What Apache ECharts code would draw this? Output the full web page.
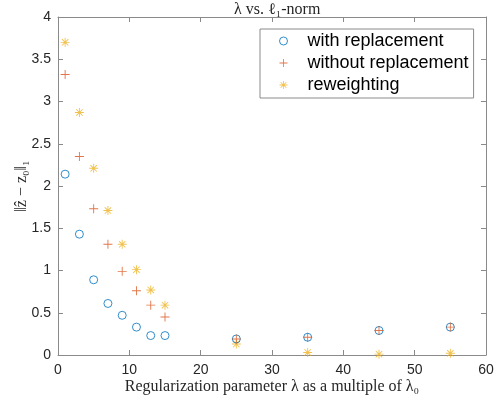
<!DOCTYPE html>
<html><head><meta charset="utf-8">
<script src="https://cdn.jsdelivr.net/npm/echarts@6/dist/echarts.min.js"></script>
<style>html,body{margin:0;padding:0;background:#fff}#c{width:500px;height:397px}</style>
</head><body><div id="c"></div>
<script>
const lambdas = [1, 3, 5, 7, 9, 11, 13, 15, 25, 35, 45, 55];
const withReplacement = [2.14, 1.43, 0.89, 0.61, 0.47, 0.33, 0.23, 0.23, 0.19, 0.21, 0.29, 0.33];
const withoutReplacement = [3.32, 2.35, 1.73, 1.31, 0.99, 0.76, 0.59, 0.45, 0.19, 0.21, 0.29, 0.33];
const reweighting = [3.70, 2.87, 2.21, 1.71, 1.31, 1.01, 0.77, 0.59, 0.13, 0.03, 0.01, 0.02];
const seriesNames = ['with replacement', 'without replacement', 'reweighting'];
const xTicks = [0, 10, 20, 30, 40, 50, 60];
const yTicks = [0, 0.5, 1, 1.5, 2, 2.5, 3, 3.5, 4];

const PLUS = 'path://M0,9H20V11H0ZM9,0H11V20H9Z';
const STAR = 'path://M0,9H20V11H0ZM9,0H11V20H9ZM2.2,3.6L3.6,2.2L17.8,16.4L16.4,17.8ZM16.4,2.2L17.8,3.6L3.6,17.8L2.2,16.4Z';
const axisCol = '#8a8a8a';
const txtCol = '#262626';
const serif = '"Liberation Serif","DejaVu Serif",serif';
const sans = '"Liberation Sans",Arial,sans-serif';

function pairs(ys){ return lambdas.map((x,i)=>[x, ys[i]]); }

const baseX = {type:'value', min:xTicks[0], max:xTicks[xTicks.length-1], interval:10,
  axisLine:{show:true, onZero:false, lineStyle:{color:axisCol, width:1}},
  axisTick:{show:true, inside:true, length:5, lineStyle:{color:axisCol}},
  splitLine:{show:false}};
const baseY = {type:'value', min:yTicks[0], max:yTicks[yTicks.length-1], interval:0.5,
  axisLine:{show:true, onZero:false, lineStyle:{color:axisCol, width:1}},
  axisTick:{show:true, inside:true, length:5, lineStyle:{color:axisCol}},
  splitLine:{show:false}};

const option = {
  animation:false,
  backgroundColor:'#fff',
  title:{text:'λ vs. ℓ₁-norm', left:229, top:-3, textStyle:{fontFamily:serif, fontSize:16, fontWeight:'normal', color:txtCol}},
  grid:{left:58, right:14, top:17, bottom:42, containLabel:false, outerBoundsMode:'none'},
  legend:{
    orient:'vertical', left:260, top:29,
    data:[
      {name:seriesNames[0], itemStyle:{borderWidth:1}},
      {name:seriesNames[1]},
      {name:seriesNames[2]}
    ],
    padding:[3, 5, 4, 19],
    itemGap:4, itemWidth:8, itemHeight:8,
    backgroundColor:'#fff',
    borderColor:axisCol, borderWidth:1,
    textStyle:{fontFamily:sans, fontSize:18, color:'#000', padding:[0,0,0,15]}
  },
  xAxis:[
    Object.assign({}, baseX, {position:'bottom',
      axisLabel:{show:true, color:txtCol, fontFamily:sans, fontSize:14, margin:8},
      name:'Regularization parameter λ as a multiple of λ₀', nameLocation:'middle', nameGap:24, nameMoveOverlap:false,
      nameTextStyle:{fontFamily:serif, fontSize:16, color:txtCol}}),
    Object.assign({}, baseX, {position:'top', axisLabel:{show:false}})
  ],
  yAxis:[
    Object.assign({}, baseY, {position:'left',
      axisLabel:{show:true, color:txtCol, fontFamily:sans, fontSize:14, margin:7},
      name:'‖ẑ − z₀‖₁', nameLocation:'middle', nameGap:28, nameRotate:90, nameMoveOverlap:false,
      nameTextStyle:{fontFamily:serif, fontSize:16, color:txtCol}}),
    Object.assign({}, baseY, {position:'right', axisLabel:{show:false}})
  ],
  series:[
    {name:seriesNames[0], type:'scatter', data:pairs(withReplacement), symbol:'circle', symbolSize:8,
     itemStyle:{color:'rgba(0,0,0,0)', borderColor:'#0072BD', borderWidth:1}, z:3},
    {name:seriesNames[1], type:'scatter', data:pairs(withoutReplacement), symbol:PLUS, symbolSize:9,
     itemStyle:{color:'#D95319'}, z:4},
    {name:seriesNames[2], type:'scatter', data:pairs(reweighting), symbol:STAR, symbolSize:9,
     itemStyle:{color:'#EDB120'}, z:2}
  ]
};
const chart = echarts.init(document.getElementById('c'), null, {renderer:'canvas'});
chart.setOption(option);
</script></body></html>
